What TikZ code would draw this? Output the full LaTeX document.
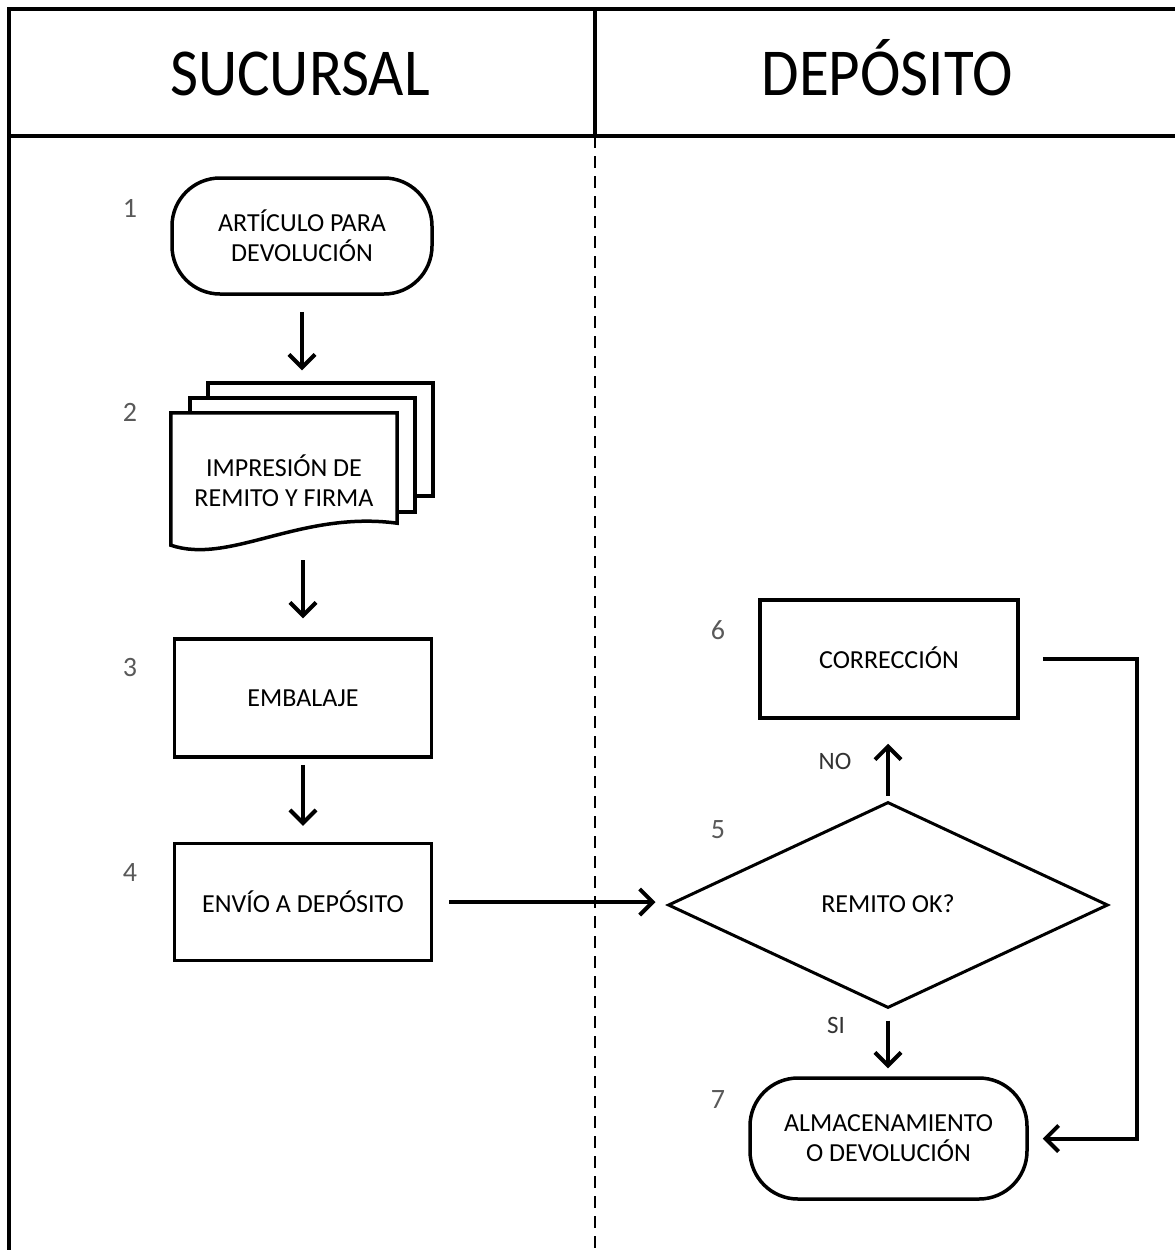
\documentclass[tikz,border=0pt]{standalone}
\usepackage{fontspec}
\setmainfont{Carlito}
\usetikzlibrary{arrows.meta,shapes.geometric,calc}

\tikzset{
  frame/.style={line width=4pt, line cap=rect},
  lane/.style={line width=2.5pt, dash pattern=on 12pt off 8pt},
  boxtext/.style={font=\fontsize{26}{30}\selectfont, align=center},
  proc/.style={draw, line width=3.5pt, inner sep=0pt, boxtext,
               minimum width=257pt, minimum height=118pt},
  term/.style={proc, rounded corners=48pt},
  dec/.style={diamond, draw, line width=3pt, inner sep=0pt, boxtext,
              minimum width=440pt, minimum height=206pt},
  sheet/.style={draw, fill=white, line width=3.5pt, inner sep=0pt},
  flow/.style={line width=4pt, -{Straight Barb[length=13pt,width=26pt]}},
  stepnum/.style={text=black!65, font=\fontsize{28}{30}\selectfont},
  branch/.style={text=black!80, font=\fontsize{25}{28}\selectfont},
  lanetitle/.style={anchor=base, font=\fontsize{61}{70}\selectfont}
}

\begin{document}
\begin{tikzpicture}[x=1pt, y=-1pt]
  \useasboundingbox (0,0) rectangle (1175,1250);

  % swimlane frame
  \draw[frame] (1180,9) -- (9,9) -- (9,1260);
  \draw[frame] (9,136) -- (1180,136);
  \draw[frame] (595,9) -- (595,136);
  \draw[lane] (595,136) -- (595,1250);

  % lane titles
  \node[lanetitle] (hsuc) at (300,95) {\scalebox{1}[1.1]{SUCURSAL}};
  \node[lanetitle] (hdep) at (887,95) {\scalebox{1}[1.1]{DEPÓSITO}};

  % left lane
  \node[term, minimum width=260pt, minimum height=116pt] (art) at (302,236)
       {ARTÍCULO PARA\\DEVOLUCIÓN};

  % stacked documents
  \node[sheet, minimum width=225pt, minimum height=113pt] (sheetC) at (320.5,439.5) {};
  \node[sheet, minimum width=225pt, minimum height=114pt] (sheetB) at (302.5,455) {};
  \node[inner sep=0pt, minimum width=226pt, minimum height=132pt] (doc) at (284,479) {};
  \draw[sheet] (doc.north west) -- (doc.north east) -- ([yshift=22pt]doc.south east)
       .. controls ($(doc.south east)+(-97,-35)$) and ($(doc.south west)+(59,20)$)
       .. (doc.south west) -- cycle;
  \node[boxtext] (doctext) at (284,481) {IMPRESIÓN DE\\REMITO Y FIRMA};

  \node[proc] (emb) at (303,698) {EMBALAJE};
  \node[proc, minimum height=117pt] (env) at (303,902) {ENVÍO A DEPÓSITO};

  % right lane
  \node[proc, minimum width=258pt] (corr) at (889,659) {\raisebox{3pt}{CORRECCIÓN}};
  \node[dec] (dia) at (888,905) {\raisebox{3pt}{REMITO OK?}};
  \node[term, minimum width=277pt, minimum height=121pt] (alm) at (888.5,1138.5)
       {ALMACENAMIENTO\\O DEVOLUCIÓN};

  % step numbers
  \node[stepnum] (n1) at (130,208) {1};
  \node[stepnum] (n2) at (130,412) {2};
  \node[stepnum] (n3) at (130,668) {3};
  \node[stepnum] (n4) at (130,872) {4};
  \node[stepnum] (n5) at (718,830) {5};
  \node[stepnum] (n6) at (718,630) {6};
  \node[stepnum] (n7) at (718,1100) {7};

  % branch labels
  \node[branch] (lno) at (835,761) {NO};
  \node[branch] (lsi) at (836,1025) {SI};

  % connectors
  \draw[flow] ([yshift=-16pt]art.south) -- ([yshift=11pt]art.south |- sheetC.north);
  \draw[flow] ([yshift=-15pt]emb.north |- doc.south) -- ([yshift=19pt]emb.north);
  \draw[flow] ([yshift=-6pt]emb.south) -- ([yshift=16pt]env.north);
  \draw[flow] ([xshift=16pt]env.east) -- ([xshift=-11pt]env.east -| dia.west);
  \draw[flow] ([yshift=5pt]dia.north) -- ([yshift=-24pt]dia.north |- corr.south);
  \draw[flow] ([yshift=-11pt]dia.south) -- ([yshift=8pt]dia.south |- alm.north);
  \draw[flow] ([xshift=23pt]corr.east) -- ++(94,0) |- ([xshift=14pt]alm.east);
\end{tikzpicture}
\end{document}
